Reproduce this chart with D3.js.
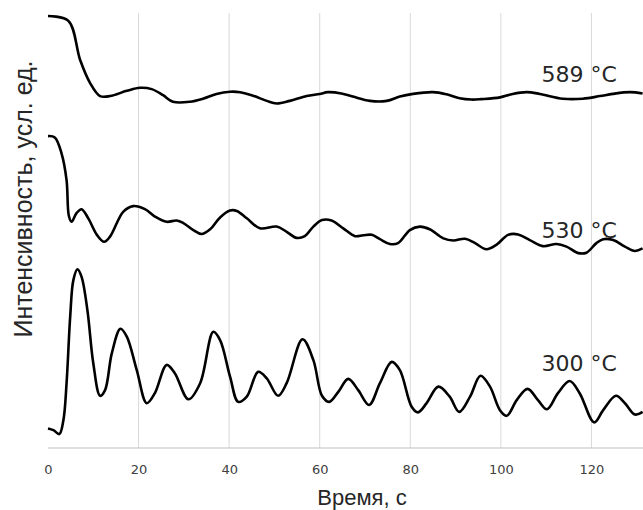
<!DOCTYPE html>
<html>
<head>
<meta charset="utf-8">
<script src="https://cdn.jsdelivr.net/npm/d3@7"></script>
<style>
  body { margin: 0; background: #fff; }
  svg { display: block; }
</style>
</head>
<body>
<div id="chart"></div>
<script>
// time ticks (s)
var xTicks = [0, 20, 40, 60, 80, 100, 120];
var seriesNames = ["589 °C", "530 °C", "300 °C"];

// intensity, arb. units
var t589 = [0, 4.5, 7.1, 9.3, 11.5, 13.7, 17.4, 20.3, 22.9, 25.4, 27.6, 31.3, 34.2, 37.2, 40.2, 42.4, 45.3, 48.3, 50.5, 53.4, 57.1, 60.0, 61.8, 64.8, 67.3, 71.1, 74.8, 77.7, 80.6, 85.0, 88.0, 90.9, 93.5, 95.7, 99.8, 102.6, 105.7, 108.6, 113.7, 118.1, 121.9, 124.7, 128.5, 131.3];
var v589 = [99.3, 98.2, 89.2, 83.9, 80.9, 80.9, 82.1, 82.8, 82.5, 81.1, 79.6, 79.6, 80.3, 81.4, 81.9, 81.8, 81.0, 79.8, 79.2, 79.8, 80.9, 81.4, 81.8, 81.5, 80.8, 79.8, 79.8, 80.8, 81.4, 81.8, 81.3, 80.4, 80.1, 80.2, 80.6, 81.4, 81.8, 81.4, 80.3, 80.3, 80.9, 81.4, 81.8, 81.5];

var t530 = [0, 1.5, 3.0, 4.1, 4.6, 5.2, 6.3, 7.4, 8.9, 10.8, 12.4, 13.7, 16.6, 18.8, 21.4, 23.6, 26.2, 28.4, 29.9, 32.1, 33.9, 35.8, 38.0, 40.2, 41.7, 43.9, 46.8, 50.5, 52.7, 54.9, 56.7, 58.6, 60.5, 62.6, 65.2, 67.8, 69.6, 71.5, 73.3, 75.5, 77.3, 79.9, 82.1, 84.3, 87.3, 89.5, 92.1, 94.3, 96.8, 99.0, 101.6, 103.8, 106.4, 109.3, 112.3, 114.5, 117.1, 118.9, 121.1, 122.6, 124.8, 127.4, 129.6, 131.3];
var v530 = [71.7, 71.4, 67.7, 61.6, 53.4, 52.0, 54.0, 54.9, 52.8, 49.0, 47.4, 48.6, 54.3, 55.6, 54.9, 53.2, 52.0, 52.3, 51.7, 50.1, 49.2, 50.3, 53.0, 54.6, 54.5, 52.8, 50.5, 50.9, 49.7, 48.3, 48.7, 50.9, 52.4, 52.3, 50.5, 48.7, 48.9, 49.0, 48.0, 46.9, 47.1, 50.1, 50.9, 50.3, 48.2, 47.7, 48.1, 47.1, 45.7, 46.7, 49.0, 49.1, 47.8, 46.4, 46.9, 46.3, 44.8, 44.9, 47.1, 48.0, 47.8, 46.3, 45.3, 45.9];

var t300 = [0, 1.2, 2.5, 3.4, 4.1, 4.9, 5.6, 6.5, 7.4, 8.7, 10.0, 11.5, 12.6, 14.1, 16.0, 17.4, 19.6, 21.8, 23.6, 26.2, 28.0, 31.0, 33.6, 36.5, 38.0, 40.2, 42.0, 43.9, 46.4, 48.3, 50.8, 52.7, 56.2, 58.6, 60.5, 62.1, 64.1, 66.3, 68.5, 70.9, 73.3, 75.9, 77.7, 80.3, 81.7, 83.6, 86.2, 88.7, 90.8, 93.2, 95.5, 97.6, 99.8, 101.3, 103.5, 105.9, 108.2, 110.2, 112.6, 115.2, 117.4, 120.6, 122.6, 125.4, 127.4, 129.6, 131.3];
var v300 = [4.5, 4.1, 3.2, 6.4, 14.9, 30.2, 38.6, 41.1, 39.4, 31.7, 19.5, 12.0, 13.3, 21.8, 27.4, 25.6, 17.9, 10.3, 12.6, 19.1, 17.2, 11.2, 14.9, 26.7, 24.8, 16.4, 10.6, 11.8, 17.5, 16.0, 12.0, 14.9, 25.0, 20.2, 12.0, 10.6, 12.9, 15.9, 13.3, 9.9, 14.9, 19.8, 17.9, 9.5, 8.2, 10.3, 14.1, 11.8, 8.3, 11.8, 16.6, 14.1, 8.7, 7.4, 11.0, 13.6, 11.0, 8.9, 12.6, 15.4, 12.6, 5.9, 8.7, 12.0, 10.3, 7.7, 8.3];

var width = 643, height = 510;

var svg = d3.select("#chart").append("svg")
            .attr("width", width)
            .attr("height", height);

var x = d3.scaleLinear().domain([0, 140]).range([48, 682]);
var y = d3.scaleLinear().domain([0, 100]).range([448, 13]);

// vertical gridlines
svg.append("g")
   .selectAll("line")
   .data(xTicks.slice(1))
   .enter()
   .append("line")
   .attr("x1", function(d) { return x(d); })
   .attr("x2", function(d) { return x(d); })
   .attr("y1", y(100))
   .attr("y2", y(0))
   .attr("stroke", "#d9d9d9")
   .attr("stroke-width", 1);

// x axis
var xAxis = d3.axisBottom(x).tickValues(xTicks).tickSize(0).tickPadding(17);
var gx = svg.append("g")
            .attr("transform", "translate(0," + y(0) + ")")
            .call(xAxis);
gx.select(".domain").attr("stroke", "#bfbfbf").attr("stroke-width", 1.2)
  .attr("d", "M" + x(0) + ",0H" + width);
gx.selectAll("text")
  .attr("font-family", "DejaVu Sans")
  .attr("font-size", "13px")
  .attr("fill", "#404040");

var line = d3.line()
             .x(function(d) { return x(d[0]); })
             .y(function(d) { return y(d[1]); })
             .curve(d3.curveCatmullRom.alpha(0.5));

var series = [
  { name: seriesNames[0], t: t589, v: v589 },
  { name: seriesNames[1], t: t530, v: v530 },
  { name: seriesNames[2], t: t300, v: v300 }
];

svg.append("g")
   .selectAll("path")
   .data(series)
   .enter()
   .append("path")
   .attr("d", function(s) { return line(d3.zip(s.t, s.v)); })
   .attr("fill", "none")
   .attr("stroke", "#000")
   .attr("stroke-width", 2.6)
   .attr("stroke-linejoin", "round");

// series labels, placed just above the curve near t = 109
var labelY = [84.2, 48.3, 17.7];
svg.append("g")
   .selectAll("text")
   .data(series)
   .enter()
   .append("text")
   .text(function(s) { return s.name; })
   .attr("x", x(109))
   .attr("y", function(s, i) { return y(labelY[i]); })
   .attr("font-family", "DejaVu Sans")
   .attr("font-size", "22px")
   .attr("fill", "#262626");

// axis titles
svg.append("text")
   .text("Время, с")
   .attr("x", 362)
   .attr("y", 505)
   .attr("text-anchor", "middle")
   .attr("font-family", "Liberation Sans")
   .attr("font-size", "22px")
   .attr("fill", "#262626");

svg.append("text")
   .text("Интенсивность, усл. ед.")
   .attr("transform", "translate(32,199) rotate(-90)")
   .attr("text-anchor", "middle")
   .attr("font-family", "Liberation Sans")
   .attr("font-size", "25px")
   .attr("fill", "#262626");
</script>
</body>
</html>
